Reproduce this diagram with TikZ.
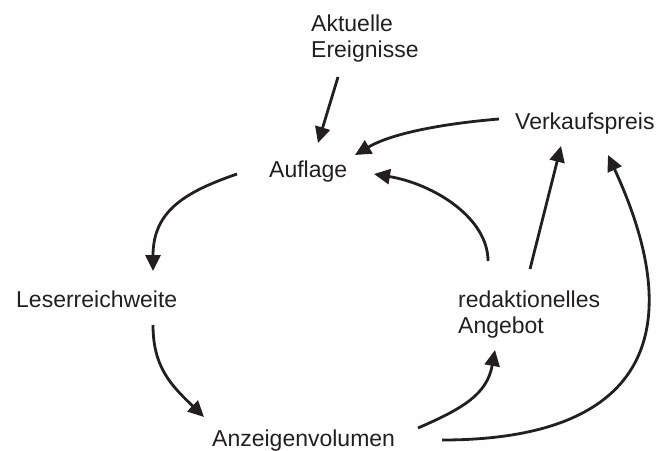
\documentclass[tikz,border=0pt]{standalone}
\usepackage{fontspec}
\setmainfont{Liberation Sans}
\usetikzlibrary{arrows.meta}
\definecolor{ink}{RGB}{35,31,32}
\begin{document}
\begin{tikzpicture}[x=1pt,y=-1pt,
  lbl/.style={inner sep=0pt, anchor=base west, font=\fontsize{23}{26.5}\selectfont, text=ink},
  lbltwo/.style={lbl, align=left, anchor=north west},
  conn/.style={line width=2.8pt, draw=ink, -{Triangle[length=16pt,width=15pt]}}]
\useasboundingbox (0,0) rectangle (668,450);
% texts
\node[lbltwo] (akt) at (311,14.5) {Aktuelle\\Ereignisse};
\node[lbl] (verk) at (515,129) {Verkaufspreis};
\node[lbl] (aufl) at (269,177) {Auflage};
\node[lbl] (leser) at (16,307) {Leserreichweite};
\node[lbltwo] (red) at (458,290.5) {redaktionelles\\Angebot};
\node[lbl] (anz) at (212,446) {Anzeigenvolumen};
% connector ends
\coordinate (akt-o) at (338,77);
\coordinate (aufl-i1) at (318,143);
\coordinate (verk-o1) at (499,119);
\coordinate (aufl-i2) at (355,155);
\coordinate (aufl-o) at (237,174);
\coordinate (leser-i) at (153,271);
\coordinate (leser-o) at (153,325);
\coordinate (anz-i) at (204,417);
\coordinate (anz-o1) at (418,428);
\coordinate (red-i) at (495,350);
\coordinate (anz-o2) at (442,440);
\coordinate (verk-i) at (608,155);
\coordinate (red-o1) at (488,261);
\coordinate (aufl-i3) at (374,174);
\coordinate (red-o2) at (530,269);
\coordinate (verk-i2) at (561,146);
% connectors
\draw[conn] (akt-o) -- (aufl-i1);
\draw[conn] (verk-o1) .. controls (450,123) and (394,132) .. (aufl-i2);
\draw[conn] (aufl-o) .. controls (185,192) and (153,211) .. (leser-i);
\draw[conn] (leser-o) .. controls (153,368) and (172,386) .. (anz-i);
\draw[conn] (anz-o1) .. controls (464,408) and (487,394) .. (red-i);
\draw[conn] (anz-o2) .. controls (642,440) and (692,337) .. (verk-i);
\draw[conn] (red-o1) .. controls (488,218) and (434,184) .. (aufl-i3);
\draw[conn] (red-o2) -- (verk-i2);
\end{tikzpicture}
\end{document}
